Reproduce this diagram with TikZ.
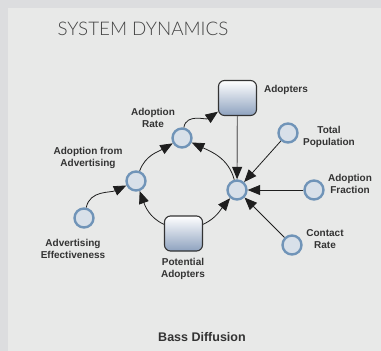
\documentclass[tikz,border=0pt]{standalone}
\usepackage{fontspec}
\usepackage{xcolor}
\setmainfont{Liberation Sans}
\newfontfamily\titlefont{Lato Light}
\usetikzlibrary{arrows.meta}
\definecolor{frame}{HTML}{DCDDDF}
\definecolor{panel}{HTML}{E8E9E8}
\definecolor{ring}{HTML}{7094B8}
\definecolor{ringfill}{HTML}{D8E0E9}
\definecolor{boxblue}{HTML}{8EA2BF}
\definecolor{ink}{HTML}{333333}
\definecolor{arrowink}{HTML}{1E1E1E}
\definecolor{titlegrey}{HTML}{444444}
\definecolor{linegrey}{HTML}{777777}

\begin{document}
\begin{tikzpicture}[x=1pt,y=-1pt,
  aux/.style={circle, draw=ring, fill=ringfill, line width=2.4pt, minimum size=19pt, inner sep=0pt},
  stock/.style={draw=ink, line width=1.1pt, rounded corners=6pt, minimum width=38pt, minimum height=35pt, top color=white, bottom color=boxblue},
  lbl/.style={font=\bfseries\fontsize{10}{12}\selectfont, text=ink, align=center},
  link/.style={draw=arrowink, line width=0.8pt, -{Triangle[length=12.5pt,width=10pt,color=arrowink]}}]
% Background panel
\fill[frame] (0,0) rectangle (381,351);
\fill[panel] (8,8) rectangle (381,351);

% Title
\node[anchor=west, text=titlegrey, font=\titlefont\fontsize{18.8}{18.8}\selectfont] (title) at (54,29) {SYSTEM DYNAMICS};

% Stocks
\node[stock] (adopters) at (237.5,98) {};
\node[stock] (potential) at (183.5,233.5) {};

% Auxiliaries
\node[aux] (rate) at (182,138) {};
\node[aux] (advert) at (136,181) {};
\node[aux] (effect) at (84,218) {};
\node[aux] (wom) at (237,190) {};
\node[aux] (total) at (288,133) {};
\node[aux] (fraction) at (314,190) {};
\node[aux] (contact) at (292,245) {};

% Labels
\node[lbl] (adopterslbl) at (286,90) {Adopters};
\node[lbl] (ratelbl) at (153,118) {Adoption\\Rate};
\node[lbl] (advertlbl) at (88,157.5) {Adoption from\\Advertising};
\node[lbl] (effectlbl) at (73,249) {Advertising\\Effectiveness};
\node[lbl] (totallbl) at (329,137) {Total\\Population};
\node[lbl] (fractionlbl) at (350,183.5) {Adoption\\Fraction};
\node[lbl] (contactlbl) at (325,239.5) {Contact\\Rate};
\node[lbl] (potentiallbl) at (183,269) {Potential\\Adopters};
\node[lbl, font=\bfseries\fontsize{12.5}{14}\selectfont] (caption) at (202,337) {Bass Diffusion};

% Curved links of the loop
\draw[link] (effect) to[out=78, in=205] (advert);
\draw[link] (potential) to[out=155, in=-70] (advert);
\draw[link] (advert) to[out=70, in=210] (rate);
\draw[link] (rate) to[out=80, in=215] (adopters);
\draw[link] (wom) to[out=105, in=-25] (rate);
\draw[link] (potential) to[out=25, in=230] (wom);

% Straight links into the centre
\draw[link, draw=linegrey, line width=1.2pt] (adopters) -- (wom);
\draw[link] (total) -- (wom);
\draw[link] (fraction) -- (wom);
\draw[link] (contact) -- (wom);
\end{tikzpicture}
\end{document}
